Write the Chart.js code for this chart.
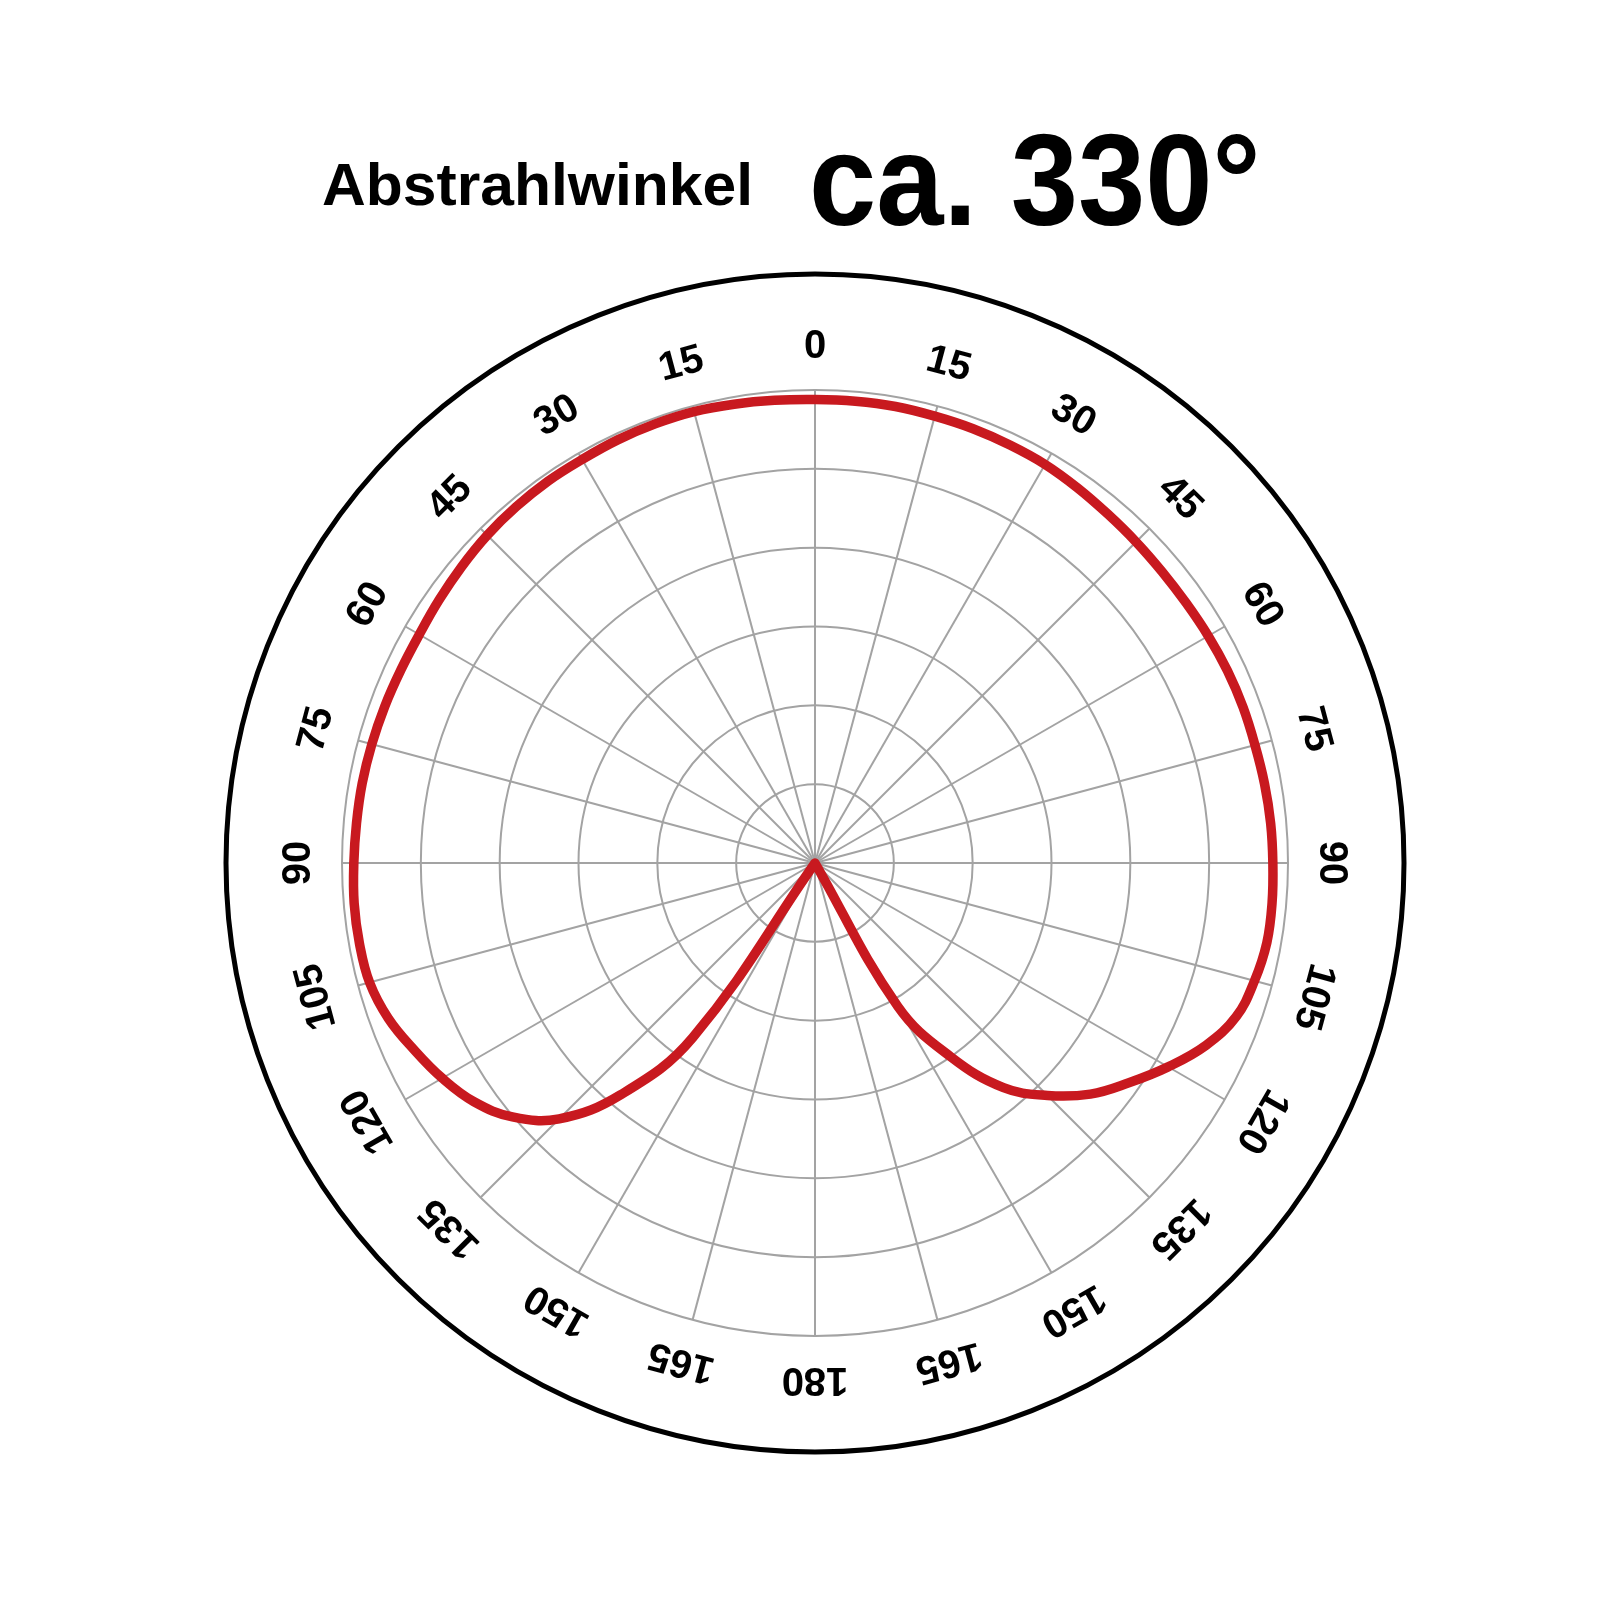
<!DOCTYPE html>
<html>
<head>
<meta charset="utf-8">
<script src="https://cdn.jsdelivr.net/npm/chart.js@4.4.1/dist/chart.umd.min.js"></script>
<style>
  html, body { margin: 0; padding: 0; background: #fff; }
  #wrap { width: 1620px; height: 1620px; position: relative; }
</style>
</head>
<body>
<div id="wrap"><canvas id="Abstrahl" width="1620" height="1620"></canvas></div>
<script>
// Winkel im Uhrzeigersinn ab oben: rechts 0..180, links 175..5 (5-Grad-Schritte)
const winkel = [0, 5, 10, 15, 20, 25, 30, 35, 40, 45, 50, 55, 60, 65, 70, 75, 80, 85, 90,
                95, 100, 105, 110, 115, 120, 125, 130, 135, 140, 145, 150, 155, 160, 165, 170, 175, 180,
                175, 170, 165, 160, 155, 150, 145, 140, 135, 130, 125, 120, 115, 110, 105, 100, 95,
                90, 85, 80, 75, 70, 65, 60, 55, 50, 45, 40, 35, 30, 25, 20, 15, 10, 5];
// relative Lichtstaerke in % - rechte Seite (0..180)
const rechts = [98, 98, 98, 97.8, 97.7, 97.5, 97.3, 96.8, 96.3, 96, 95.8, 95.8, 96, 96.2, 96.3, 96.3,
                96.5, 96.7, 96.8, 97, 97, 96.2, 94.8, 91.2, 86.2, 81, 76, 69.5, 62, 50, 35, 0, 0, 0, 0, 0, 0];
// linke Seite (175..5)
const links = [0, 0, 0, 0, 0, 0, 45, 64, 76.5, 83.5, 88, 91, 93.5, 96, 97.5, 97.8, 97.8,
               97.5, 97.3, 97.2, 97, 96.8, 96.6, 96.6, 97, 97.5, 98, 98.3, 98.5, 98.5, 98.7, 98.8,
               98.8, 98.5, 98.2];
// Ringe
const ringe = [0, 16.667, 33.333, 50, 66.667, 83.333, 100];
const titel = 'Abstrahlwinkel';
const titelWert = 'ca. 330°';

const rahmen = {
  id: 'rahmen',
  afterDraw(chart) {
    const ctx = chart.ctx;
    const r = chart.scales.r;
    ctx.save();
    // aeusserer schwarzer Kreis
    ctx.beginPath();
    ctx.arc(r.xCenter, r.yCenter, r.drawingArea + 116, 0, Math.PI * 2);
    ctx.lineWidth = 5;
    ctx.strokeStyle = '#000';
    ctx.stroke();
    // gedrehte Winkelbeschriftung (alle 15 Grad)
    ctx.fillStyle = '#000';
    ctx.font = 'bold 40px "Liberation Sans", Arial, sans-serif';
    ctx.textAlign = 'center';
    ctx.textBaseline = 'middle';
    winkel.forEach((w, i) => {
      if (w % 15 !== 0) return;
      const p = r.getPointPosition(i, r.drawingArea + 43);
      ctx.save();
      ctx.translate(p.x, p.y);
      ctx.rotate(p.angle + Math.PI / 2);
      ctx.fillText(String(w), 0, 0);
      ctx.restore();
    });
    // Titel
    ctx.textAlign = 'left';
    ctx.textBaseline = 'alphabetic';
    ctx.save();
    ctx.translate(322, 205);
    ctx.scale(1.01, 1);
    ctx.font = 'bold 60px "Liberation Sans", Arial, sans-serif';
    ctx.fillText(titel, 0, 0);
    ctx.restore();
    ctx.save();
    ctx.translate(809, 225);
    ctx.scale(0.93, 1);
    ctx.font = 'bold 130px "Liberation Sans", Arial, sans-serif';
    ctx.fillText(titelWert, 0, 0);
    ctx.restore();
    ctx.restore();
  }
};

new Chart(document.getElementById('Abstrahl'), {
  type: 'radar',
  data: {
    labels: winkel,
    datasets: [{
      label: 'Abstrahlung',
      data: rechts.concat(links),
      borderColor: '#c8191f',
      borderWidth: 9.5,
      fill: false,
      pointRadius: 0,
      tension: 0.4,
      borderJoinStyle: 'round',
      borderCapStyle: 'round'
    }]
  },
  options: {
    responsive: false,
    animation: false,
    layout: { padding: { left: 342, right: 332, top: 390, bottom: 284 } },
    plugins: { legend: { display: false }, tooltip: { enabled: false } },
    scales: {
      r: {
        min: 0,
        max: 100,
        afterBuildTicks: s => { s.ticks = ringe.map(v => ({ value: v })); },
        ticks: { display: false },
        pointLabels: { display: false },
        grid: { circular: true, color: '#a3a3a3', lineWidth: 2 },
        angleLines: {
          color: c => (winkel[c.index] % 15 === 0 ? '#a3a3a3' : 'rgba(0,0,0,0)'),
          lineWidth: c => (winkel[c.index] % 15 === 0 ? 2 : 0)
        }
      }
    }
  },
  plugins: [rahmen]
});
</script>
</body>
</html>
